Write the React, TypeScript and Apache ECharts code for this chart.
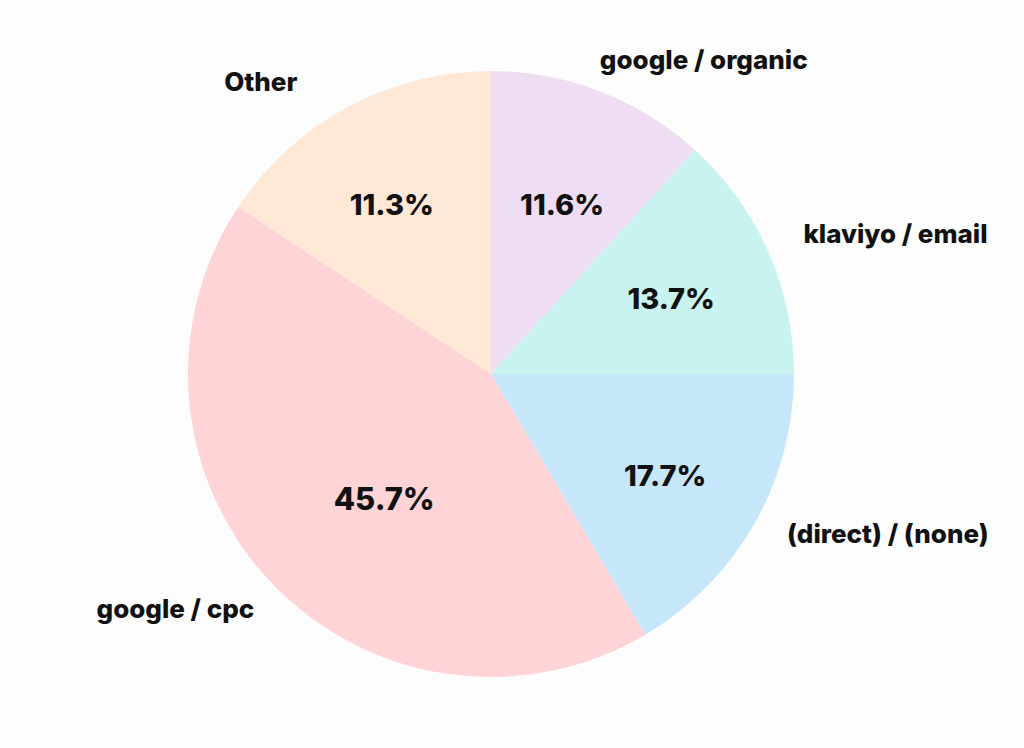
import React, { useEffect, useRef } from "react";
import * as echarts from "echarts";

// Slice names (clockwise from 12 o'clock)
const categories = ["google / organic", "klaviyo / email", "(direct) / (none)", "google / cpc", "Other"];
// Drawn slice shares as they appear in the picture (angle / 360, in %)
const sliceShares = [11.75, 13.25, 16.5, 42.8, 15.7];
// Percentage labels printed on the slices
const percentLabels = ["11.6%", "13.7%", "17.7%", "45.7%", "11.3%"];
const colors = ["#EFDEF3", "#C9F3EE", "#C6E6FA", "#FFD4D7", "#FFE9D6"];

// small label nudges to match the original's placement
const nameNudge = [[-12, -2], [6, -5], [5, -6], [6, 4], [-35, 3]];
const pctNudge = [[0, 14], [0, 4], [3, 4], [15, 9], [-6, 4]];

export default function App() {
  const ref = useRef<HTMLDivElement>(null);
  useEffect(() => {
    document.body.style.margin = "0";
    const chart = echarts.init(ref.current!, null, { renderer: "svg" });
    const cx = 491;
    const cy = 374;
    const R = 303;
    const font = "Inter, 'Noto Sans', sans-serif";
    const baseData = categories.map((name, i) => ({
      name,
      value: sliceShares[i],
      itemStyle: { color: colors[i] },
    }));
    const bigIdx = 3;
    const nudge = (arr: number[][]) => (p: any) => {
      const n = arr[p.dataIndex] || [0, 0];
      return { dx: n[0], dy: n[1] };
    };
    chart.setOption({
      animation: false,
      backgroundColor: "#fdfdfd",
      series: [
        {
          type: "pie",
          center: [cx, cy],
          radius: [0, R],
          startAngle: 90,
          clockwise: true,
          silent: true,
          data: baseData,
          itemStyle: { borderWidth: 0 },
          label: {
            show: true,
            position: "outside",
            color: "#111",
            fontFamily: font,
            fontWeight: 800,
            fontSize: 26,
            distanceToLabelLine: 0,
          },
          labelLine: { show: false, length: 32, length2: 0 },
          labelLayout: nudge(nameNudge),
          avoidLabelOverlap: false,
        },
        {
          type: "pie",
          center: [cx, cy],
          radius: [Math.round(R * 0.28), R],
          startAngle: 90,
          clockwise: true,
          silent: true,
          data: baseData.map((d, i) => ({
            name: d.name,
            value: d.value,
            itemStyle: { color: "rgba(0,0,0,0)" },
            label: { show: i !== bigIdx, formatter: percentLabels[i] },
          })),
          label: {
            position: "inside",
            color: "#111",
            fontFamily: font,
            fontWeight: 800,
            fontSize: 29,
          },
          labelLine: { show: false },
          labelLayout: nudge(pctNudge),
        },
        {
          type: "pie",
          center: [cx, cy],
          radius: [Math.round(R * 0.09), R],
          startAngle: 90,
          clockwise: true,
          silent: true,
          data: baseData.map((d, i) => ({
            name: d.name,
            value: d.value,
            itemStyle: { color: "rgba(0,0,0,0)" },
            label: { show: i === bigIdx, formatter: percentLabels[i] },
          })),
          label: {
            position: "inside",
            color: "#111",
            fontFamily: font,
            fontWeight: 800,
            fontSize: 31,
          },
          labelLine: { show: false },
          labelLayout: nudge(pctNudge),
        },
      ],
    });
    return () => chart.dispose();
  }, []);
  return <div ref={ref} style={{ width: 1024, height: 748 }} />;
}
